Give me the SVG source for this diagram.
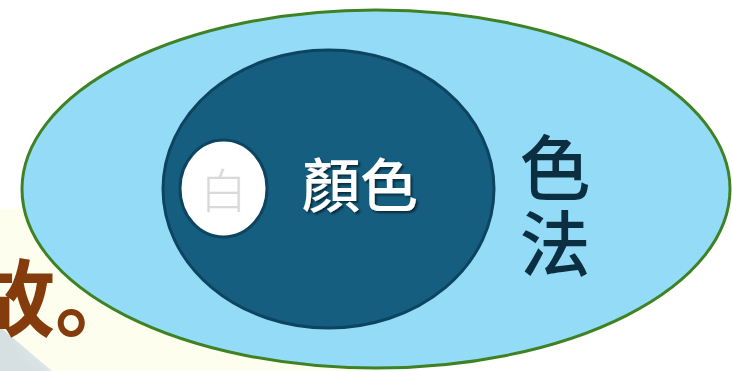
<svg xmlns="http://www.w3.org/2000/svg" width="732" height="371" viewBox="0 0 732 371">
  <defs>
    <linearGradient id="wedge" x1="0" y1="0" x2="1" y2="-0.6">
      <stop offset="0" stop-color="#D6E0E2"/>
      <stop offset="1" stop-color="#F2F6F2"/>
    </linearGradient>
    <filter id="shadow" x="-20%" y="-20%" width="140%" height="140%">
      <feDropShadow dx="2" dy="2" stdDeviation="1" flood-color="#000000" flood-opacity="0.55"/>
    </filter>
  </defs>
  <style>
    .cjk { font-family: "Noto Sans CJK TC", "Noto Sans CJK SC", sans-serif; }
    .cjksc { font-family: "Noto Sans CJK SC", "Noto Sans CJK TC", sans-serif; }
    .outer { fill: #94DBF7; stroke: #3E8224; stroke-width: 3; }
    .inner { fill: #155E80; stroke: #0D4560; stroke-width: 3; }
    .white { fill: #FFFFFF; stroke: #0D4560; stroke-width: 3; }
  </style>
  <rect x="0" y="0" width="732" height="371" fill="#FFFFFF"/>
  <g id="background">
    <rect x="0" y="209" width="380" height="162" fill="#FEFEEE"/>
    <polygon points="0,327 52,371 0,371" fill="url(#wedge)"/>
    <text class="cjksc" x="-29" y="330" font-size="84" font-weight="bold" fill="#843C0C">故。</text>
  </g>
  <g id="node-sefa">
    <ellipse class="outer" cx="376" cy="189" rx="354" ry="179"/>
    <text class="cjk" x="555" y="194" font-size="71" font-weight="500" fill="#0B2E40" text-anchor="middle">色</text>
    <text class="cjk" x="555" y="270" font-size="71" font-weight="500" fill="#0B2E40" text-anchor="middle">法</text>
  </g>
  <g id="node-yanse">
    <ellipse class="inner" cx="328.5" cy="189" rx="165.5" ry="139"/>
    <text class="cjk" x="360" y="207" font-size="58" font-weight="500" fill="#FFFFFF" text-anchor="middle" filter="url(#shadow)">顏色</text>
  </g>
  <g id="node-bai">
    <ellipse class="white" cx="223.5" cy="188.5" rx="43.5" ry="48.5"/>
    <text class="cjk" x="223.5" y="208" font-size="47" font-weight="300" fill="#D9D9D9" text-anchor="middle">白</text>
  </g>
  <g id="connectors"></g>
</svg>
